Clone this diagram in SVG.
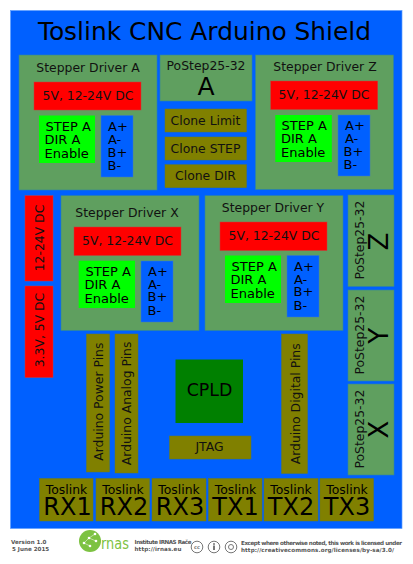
<svg xmlns="http://www.w3.org/2000/svg" width="413" height="564" viewBox="0 0 413 564">
<style>
text{font-family:"DejaVu Sans",sans-serif;fill:#000}
.m{text-anchor:middle}
.bg{fill:#0060ff;stroke:#5f9fff;stroke-width:.7}
.g{fill:#5f9f5f;stroke:#2f86a0;stroke-width:.6}
.r{fill:#ff0000;stroke:#c83c3c;stroke-width:.5}
.l{fill:#00ff00}
.b{fill:#0060ff;stroke:#3c78c8;stroke-width:.5}
.o{fill:#808000;stroke:#6a7a20;stroke-width:.5}
.t13{font-size:13px}
.t{font-size:12.4px;fill:#111}
.ts{font-size:12.4px}
.f{font-size:5.6px;font-weight:bold;fill:#555}
.cc{fill:none;stroke:#777;stroke-width:1}
</style>
<rect width="413" height="564" fill="#fff"/>
<rect class="bg" x="10.5" y="10.5" width="391.5" height="518"/>
<text id="title" x="204.500" y="40" class="m" font-size="24.900">Toslink CNC Arduino Shield</text>

<g id="driver-a">
<rect class="g" x="19" y="55" width="138" height="135"/>
<text class="m t" x="88" y="72">Stepper Driver A</text>
<rect class="r" x="34" y="82" width="107" height="28"/>
<text class="m t" x="88" y="100">5V, 12-24V DC</text>
<rect class="l" x="39" y="115.500" width="56" height="47.500"/>
<text class="t13" x="45.500" y="131">STEP A</text><text class="t13" x="44.500" y="144">DIR A</text><text class="t13" x="44.500" y="158">Enable</text>
<rect class="b" x="101" y="115.500" width="32" height="61.500"/>
<text class="t13" x="108" y="131">A+</text><text class="t13" x="108" y="144">A-</text><text class="t13" x="107.500" y="156.500">B+</text><text class="t13" x="107.500" y="170">B-</text>
</g>

<g id="postep-a">
<rect class="g" x="160" y="55" width="92" height="46"/>
<text class="m t" x="206" y="70">PoStep25-32</text>
<text class="m" x="206" y="95" font-size="25">A</text>
</g>
<g id="clone-limit"><rect class="o" x="165" y="109" width="81.500" height="23"/><text class="m t" x="205.500" y="124.500">Clone Limit</text></g>
<g id="clone-step"><rect class="o" x="165" y="137" width="81.500" height="23"/><text class="m t" x="205.500" y="152.500">Clone STEP</text></g>
<g id="clone-dir"><rect class="o" x="165" y="164.700" width="81.500" height="23"/><text class="m t" x="205.500" y="180">Clone DIR</text></g>

<g id="driver-z">
<rect class="g" x="255.500" y="55" width="138" height="134.500"/>
<text class="m t" x="325" y="71">Stepper Driver Z</text>
<rect class="r" x="270.700" y="81" width="107" height="28.500"/>
<text class="m t" x="324" y="99">5V, 12-24V DC</text>
<rect class="l" x="275.300" y="115" width="56.500" height="47"/>
<text class="t13" x="281.500" y="130">STEP A</text><text class="t13" x="281" y="143">DIR A</text><text class="t13" x="281" y="157">Enable</text>
<rect class="b" x="338" y="115" width="32" height="61"/>
<text class="t13" x="345" y="130">A+</text><text class="t13" x="345" y="143">A-</text><text class="t13" x="343.500" y="156">B+</text><text class="t13" x="343.500" y="169">B-</text>
</g>

<g id="driver-x">
<rect class="g" x="61" y="195.700" width="138" height="134.800"/>
<text class="m t" x="127" y="217">Stepper Driver X</text>
<rect class="r" x="74" y="227" width="107" height="28.500"/>
<text class="m t" x="127.500" y="245">5V, 12-24V DC</text>
<rect class="l" x="78.700" y="260.700" width="56.300" height="47.300"/>
<text class="t13" x="85.500" y="276">STEP A</text><text class="t13" x="84.500" y="289">DIR A</text><text class="t13" x="84.500" y="303">Enable</text>
<rect class="b" x="141" y="261" width="32" height="61"/>
<text class="t13" x="148" y="276">A+</text><text class="t13" x="148" y="289">A-</text><text class="t13" x="147.500" y="301">B+</text><text class="t13" x="147.500" y="314.500">B-</text>
</g>

<g id="driver-y">
<rect class="g" x="205" y="195.700" width="138" height="134.800"/>
<text class="m t" x="273" y="212">Stepper Driver Y</text>
<rect class="r" x="220" y="222" width="107" height="28.500"/>
<text class="m t" x="274" y="240">5V, 12-24V DC</text>
<rect class="l" x="225" y="255.500" width="56" height="47.500"/>
<text class="t13" x="231.500" y="271">STEP A</text><text class="t13" x="230.500" y="284">DIR A</text><text class="t13" x="230.500" y="298">Enable</text>
<rect class="b" x="287" y="255.500" width="32" height="61.500"/>
<text class="t13" x="294" y="271">A+</text><text class="t13" x="294" y="284">A-</text><text class="t13" x="293.500" y="296">B+</text><text class="t13" x="293.500" y="309.500">B-</text>
</g>

<g id="postep-z">
<rect class="g" x="348" y="195" width="46" height="91.500"/>
<text class="t" transform="translate(363.500 279.500) rotate(-90)">PoStep25-32</text>
<text class="m" transform="translate(388 241.500) rotate(-90)" font-size="26">Z</text>
</g>
<g id="postep-y">
<rect class="g" x="348" y="290" width="46" height="91"/>
<text class="t" transform="translate(363.500 374.500) rotate(-90)">PoStep25-32</text>
<text class="m" transform="translate(388 335.700) rotate(-90)" font-size="26">Y</text>
</g>
<g id="postep-x">
<rect class="g" x="348" y="384" width="46" height="91"/>
<text class="t" transform="translate(363.500 468.500) rotate(-90)">PoStep25-32</text>
<text class="m" transform="translate(388 429.500) rotate(-90)" font-size="26">X</text>
</g>

<g id="power-12-24">
<rect class="r" x="25" y="195.700" width="28" height="85.300"/>
<text class="m t" transform="translate(43.500 238) rotate(-90)">12-24V DC</text>
</g>
<g id="power-3-5">
<rect class="r" x="25" y="286" width="28" height="91.500"/>
<text class="m t" transform="translate(43.500 330) rotate(-90)">3.3V, 5V DC</text>
</g>

<g id="arduino-power"><rect class="o" x="86.500" y="334" width="23" height="138"/><text class="m t" transform="translate(103.300 401.700) rotate(-90)">Arduino Power Pins</text></g>
<g id="arduino-analog"><rect class="o" x="115" y="334" width="23" height="139"/><text class="m t" transform="translate(130.500 403.400) rotate(-90)">Arduino Analog Pins</text></g>
<g id="arduino-digital"><rect class="o" x="281.500" y="334" width="26" height="139.500"/><text class="m t" transform="translate(299.500 403.800) rotate(-90)">Arduino Digital Pins</text></g>

<g id="cpld"><rect x="175.500" y="359.500" width="67.500" height="63.500" fill="#008000"/><text class="m" x="209.500" y="396" font-size="17.400">CPLD</text></g>
<g id="jtag"><rect class="o" x="169.500" y="436" width="81.500" height="23"/><text class="m t" x="209.500" y="450.700">JTAG</text></g>

<g id="rx1"><rect class="o" x="39.500" y="478.500" width="53.500" height="42.500"/><text class="m ts" x="66.500" y="493.500">Toslink</text><text class="m" x="67.500" y="515" font-size="24">RX1</text></g>
<g id="rx2"><rect class="o" x="96" y="478.500" width="53.500" height="42.500"/><text class="m ts" x="123" y="493.500">Toslink</text><text class="m" x="124" y="515" font-size="24">RX2</text></g>
<g id="rx3"><rect class="o" x="152" y="478.500" width="54" height="42.500"/><text class="m ts" x="179" y="493.500">Toslink</text><text class="m" x="180" y="515" font-size="24">RX3</text></g>
<g id="tx1"><rect class="o" x="208.500" y="478.500" width="53.500" height="42.500"/><text class="m ts" x="235.500" y="493.500">Toslink</text><text class="m" x="235.500" y="515" font-size="24">TX1</text></g>
<g id="tx2"><rect class="o" x="264" y="478.500" width="54" height="42.500"/><text class="m ts" x="291" y="493.500">Toslink</text><text class="m" x="291" y="515" font-size="24">TX2</text></g>
<g id="tx3"><rect class="o" x="320" y="478.500" width="53.500" height="42.500"/><text class="m ts" x="347" y="493.500">Toslink</text><text class="m" x="347" y="515" font-size="24">TX3</text></g>

<g id="footer">
<text class="f" x="11" y="544">Version 1.0</text>
<text class="f" x="12" y="551">5 June 2015</text>
<circle cx="90" cy="541" r="11" fill="#7dc242"/>
<g fill="#fff"><circle cx="84" cy="543" r="1.300"/><circle cx="89" cy="538" r="1.300"/><circle cx="95" cy="534" r="1.300"/><circle cx="96" cy="541" r="1.300"/><circle cx="90" cy="546" r="1.300"/></g>
<g stroke="#fff" stroke-width=".5" fill="none"><path d="M84 543 89 538 95 534M89 538 96 541M84 543 90 546"/></g>
<text x="101" y="549" font-size="15" style="fill:#7dc242" textLength="28" lengthAdjust="spacingAndGlyphs">rnas</text>
<text class="f" x="134.500" y="544" textLength="57">Institute IRNAS Rače</text>
<text class="f" x="134.500" y="551" textLength="47">http://irnas.eu</text>
<circle class="cc" cx="197" cy="547" r="5.800"/><text x="197" y="549" class="m" font-size="5" font-weight="bold" style="fill:#777">cc</text>
<circle class="cc" cx="214" cy="547" r="5.800"/><circle cx="214" cy="544" r="1" fill="#777"/><rect x="213" y="545.500" width="2" height="4.500" fill="#777"/>
<circle class="cc" cx="231" cy="547" r="5.800"/><circle class="cc" cx="231" cy="547" r="2.500"/>
<text class="f" x="241" y="545" textLength="161">Except where otherwise noted, this work is licensed under</text>
<text class="f" x="241" y="552" textLength="153">http://creativecommons.org/licenses/by-sa/3.0/</text>
</g>
</svg>
